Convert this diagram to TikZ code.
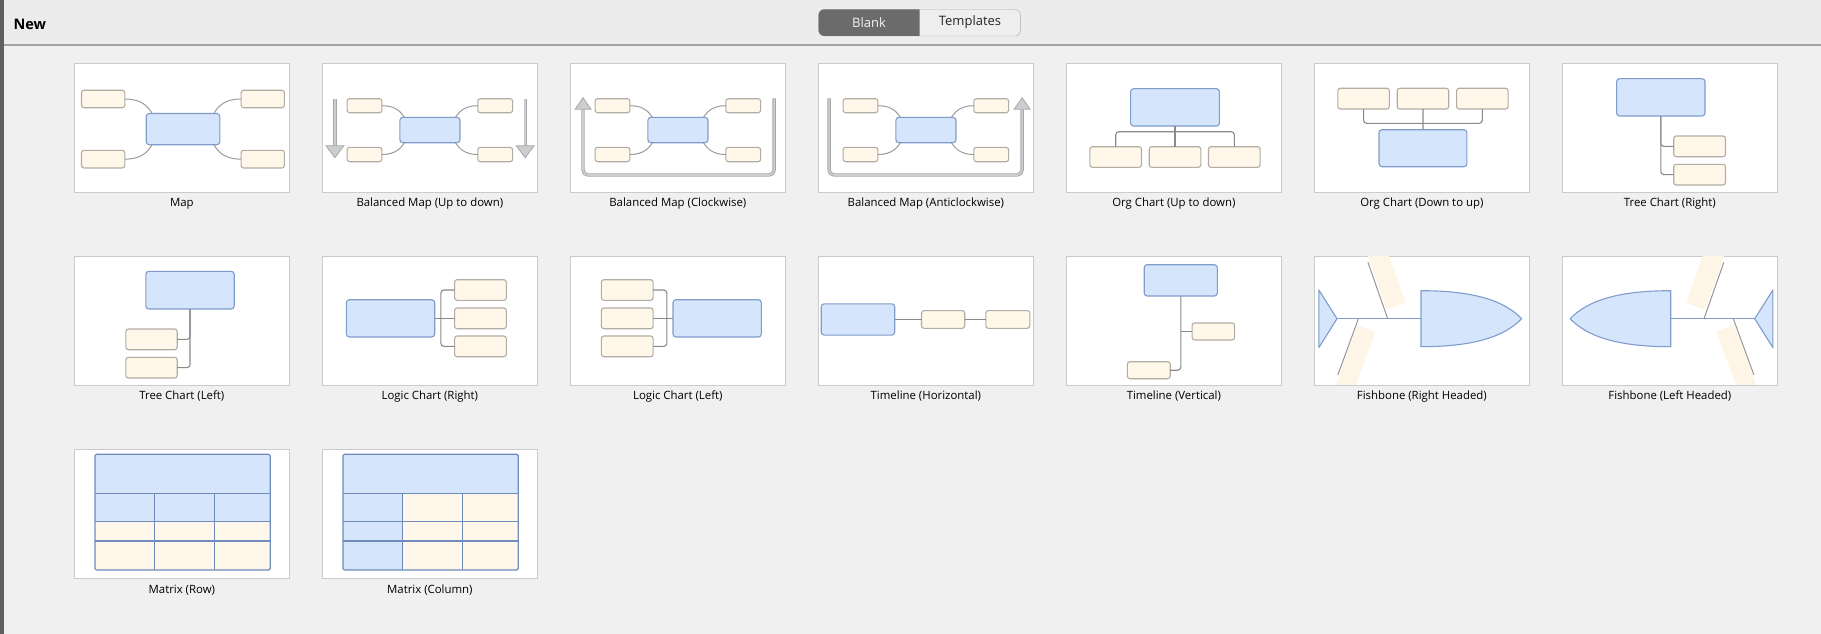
\documentclass[tikz,border=0pt]{standalone}
\usepackage{fontspec}
\setmainfont{Open Sans}
\definecolor{bgc}{HTML}{F0F0F0}
\definecolor{hdr}{HTML}{ECECEC}
\definecolor{hdrline}{HTML}{A3A3A3}
\definecolor{sidebar}{HTML}{5F5F5F}
\definecolor{cardline}{HTML}{CBCBCB}
\definecolor{bfill}{HTML}{D5E5FC}
\definecolor{bline}{HTML}{7F9CCB}
\definecolor{cfill}{HTML}{FFF7EA}
\definecolor{cline}{HTML}{B2ACA3}
\definecolor{conc}{HTML}{8A8A8A}
\definecolor{ribc}{HTML}{FEF5E7}
\definecolor{tubeo}{HTML}{A8A8A8}
\definecolor{tubei}{HTML}{CDCDCD}
\definecolor{gridc}{HTML}{6F8BBB}
\definecolor{togdark}{HTML}{6B6B6B}
\definecolor{toglight}{HTML}{EEEEEE}
\definecolor{togline}{HTML}{AAAAAA}
\tikzset{
 card/.style={draw=cardline, fill=white, line width=1pt, anchor=north west, minimum width=214.5pt, minimum height=129pt, inner sep=0pt, outer sep=0pt},
 lbl/.style={font=\fontsize{11.4}{13}\selectfont, text=black, inner sep=0pt},
 bluebox/.style={draw=bline, fill=bfill, line width=1.1pt, rounded corners=3pt, inner sep=0pt, outer sep=0pt},
 creambox/.style={draw=cline, fill=cfill, line width=1.1pt, rounded corners=2.5pt, inner sep=0pt, outer sep=0pt},
 conn/.style={draw=conc, line width=1.1pt},
 curve/.style={draw=conc!85, line width=1pt},
 tube/.style={draw=tubeo, double=tubei, double distance=1.6pt, line width=0.9pt, rounded corners=5pt},
 ahead/.style={fill=tubei, draw=tubeo, line width=0.8pt, line join=miter},
 spine/.style={draw=bline, line width=1.1pt},
 shapeb/.style={draw=bline, fill=bfill, line width=1.1pt, line join=round},
 bone/.style={draw=conc!90, line width=1pt},
 rib/.style={fill=ribc},
 gridl/.style={draw=gridc, line width=1.2pt},
}
\newcommand\bx[6]{\node[#2, minimum width={(#5)-(#3)}, minimum height={(#6)-(#4)}] (#1) at ({((#3)+(#5))/2},{((#4)+(#6))/2}) {};}
\newcommand\card[4]{\node[card] (#1) at (#2,#3) {};\node[lbl] (#1-t) at ({#2+107.25},{#3+140.5}) {#4};}
\newcommand\bmapcore[1]{%
 \bx{#1-c}{bluebox}{77.3}{54}{137.4}{79.4}
 \bx{#1-1}{creambox}{24.5}{35.4}{59.3}{49.4}
 \bx{#1-2}{creambox}{155.2}{35.4}{190}{49.4}
 \bx{#1-3}{creambox}{24.5}{84}{59.3}{98.4}
 \bx{#1-4}{creambox}{155.2}{84}{190}{98.4}
 \draw[curve] (#1-1.east) .. controls +(13,0) and +(-4,-6) .. ([xshift=4.6pt]#1-c.north west);
 \draw[curve] (#1-2.west) .. controls +(-13,0) and +(4,-6) .. ([xshift=-4.6pt]#1-c.north east);
 \draw[curve] (#1-3.east) .. controls +(13,0) and +(-4,6) .. ([xshift=4.6pt]#1-c.south west);
 \draw[curve] (#1-4.west) .. controls +(-13,0) and +(4,6) .. ([xshift=-4.6pt]#1-c.south east);
}
\newcommand\fishbody{%
 \clip (0.5,0.5) rectangle (214,128.5);
 \fill[rib] (72.0,53.5) -- (52.1,-3.1) -- (71.0,-9.7) -- (90.9,46.9) -- cycle;
 \fill[rib] (43,69.1) -- (18.9,134.8) -- (36.7,141.3) -- (60.8,75.6) -- cycle;
 \draw[bone] (73.1,62.7) -- (53.3,6.3);
 \draw[bone] (43.8,62.7) -- (23.2,119);
 \draw[spine] (22.4,62.7) -- (106.4,62.7);
 \draw[shapeb] (4.2,34) -- (22.4,62.7) -- (4.2,91.7) -- cycle;
 \draw[shapeb] (106.4,34.7) .. controls (160,34.7) and (190,45) .. (207,62.7) .. controls (190,80.4) and (160,90.7) .. (106.4,90.7) -- cycle;
}
\begin{document}
\begin{tikzpicture}[x=1pt,y=-1pt]
\useasboundingbox (0,0) rectangle (1821,634);
\fill[bgc] (0,0) rectangle (1821,634);
\fill[hdr] (0,0) rectangle (1821,45);
\draw[hdrline, line width=1.5pt] (0,45) -- (1821,45);
\fill[sidebar] (0,0) rectangle (3.5,634);
\node[font=\bfseries\fontsize{14.5}{16}\selectfont, anchor=west, inner sep=0pt] (new) at (13.3,24) {New};
% toggle
\node[draw=togline, fill=toglight, rounded corners=6pt, minimum width=202pt, minimum height=26.7pt, inner sep=0pt] (tog) at (919.55,22.65) {};
\begin{scope}
 \clip (810,0) rectangle (919.6,45);
 \fill[togdark, rounded corners=6pt] (818.5,9.3) rectangle (1020.6,36);
\end{scope}
\node[font=\fontsize{13}{15}\selectfont, text=white!95!black] (blank) at (869,22.5) {Blank};
\node[font=\fontsize{13}{15}\selectfont, text=black!85] (tmpl) at (970,22.5) {Templates};
% cards
\card{k1}{74.6}{63.3}{Map}
\card{k2}{322.6}{63.3}{Balanced Map (Up to down)}
\card{k3}{570.6}{63.3}{Balanced Map (Clockwise)}
\card{k4}{818.6}{63.3}{Balanced Map (Anticlockwise)}
\card{k5}{1066.6}{63.3}{Org Chart (Up to down)}
\card{k6}{1314.6}{63.3}{Org Chart (Down to up)}
\card{k7}{1562.6}{63.3}{Tree Chart (Right)}
\card{k8}{74.6}{256}{Tree Chart (Left)}
\card{k9}{322.6}{256}{Logic Chart (Right)}
\card{k10}{570.6}{256}{Logic Chart (Left)}
\card{k11}{818.6}{256}{Timeline (Horizontal)}
\card{k12}{1066.6}{256}{Timeline (Vertical)}
\card{k13}{1314.6}{256}{Fishbone (Right Headed)}
\card{k14}{1562.6}{256}{Fishbone (Left Headed)}
\card{k15}{74.6}{449.3}{Matrix (Row)}
\card{k16}{322.6}{449.3}{Matrix (Column)}
% Map
\begin{scope}[shift={(74.6,63.3)}]
 \bx{ma-c}{bluebox}{71.6}{50.2}{145.2}{81.4}
 \bx{ma-1}{creambox}{6.9}{27}{50.2}{44.4}
 \bx{ma-2}{creambox}{166.5}{27}{209.8}{44.4}
 \bx{ma-3}{creambox}{6.9}{87}{50.2}{104.7}
 \bx{ma-4}{creambox}{166.5}{87}{209.8}{104.7}
 \draw[curve] (ma-1.east) .. controls +(16,0) and +(-5,-8) .. ([xshift=6pt]ma-c.north west);
 \draw[curve] (ma-2.west) .. controls +(-16,0) and +(5,-8) .. ([xshift=-6pt]ma-c.north east);
 \draw[curve] (ma-3.east) .. controls +(16,0) and +(-5,8) .. ([xshift=6pt]ma-c.south west);
 \draw[curve] (ma-4.west) .. controls +(-16,0) and +(5,8) .. ([xshift=-6pt]ma-c.south east);
\end{scope}
% Balanced map up to down
\begin{scope}[shift={(322.6,63.3)}]
 \bmapcore{bu}
 \coordinate (bu-a1) at (12.3,35.7); \coordinate (bu-h1) at (12.3,82.4);
 \coordinate (bu-a2) at (202.6,35.7); \coordinate (bu-h2) at (202.6,82.4);
 \draw[tube] (bu-a1) -- (bu-h1);
 \draw[tube] (bu-a2) -- (bu-h2);
 \filldraw[ahead] (3.3,82.4) -- (21.3,82.4) -- (12.3,94.4) -- cycle;
 \filldraw[ahead] (193.6,82.4) -- (211.6,82.4) -- (202.6,94.4) -- cycle;
\end{scope}
% Balanced map clockwise
\begin{scope}[shift={(570.6,63.3)}]
 \bmapcore{bc}
 \coordinate (bc-s) at (203.5,35); \coordinate (bc-e) at (12.4,46);
 \draw[tube] (bc-s) -- (203.5,111.7) -- (12.4,111.7) -- (bc-e);
 \filldraw[ahead] (4.4,46) -- (20.4,46) -- (12.4,34.4) -- cycle;
\end{scope}
% Balanced map anticlockwise
\begin{scope}[shift={(818.6,63.3)}]
 \bmapcore{ba}
 \coordinate (ba-s) at (10.5,35); \coordinate (ba-e) at (203.5,46);
 \draw[tube] (ba-s) -- (10.5,111.7) -- (203.5,111.7) -- (ba-e);
 \filldraw[ahead] (195.5,46) -- (211.5,46) -- (203.5,34.4) -- cycle;
\end{scope}
% Org chart up to down
\begin{scope}[shift={(1066.6,63.3)}]
 \bx{ou-c}{bluebox}{64}{25.4}{152.8}{62.7}
 \bx{ou-1}{creambox}{23.3}{83.4}{74.9}{104}
 \bx{ou-2}{creambox}{82.6}{83.4}{134.2}{104}
 \bx{ou-3}{creambox}{141.9}{83.4}{193.5}{104}
 \coordinate (ou-bus) at (0,68.4);
 \draw[conn, rounded corners=3pt] (ou-1.north) -- (ou-1.north |- ou-bus) -- (ou-3.north |- ou-bus) -- (ou-3.north);
 \draw[conn] (ou-c.south) -- (ou-2.north);
\end{scope}
% Org chart down to up
\begin{scope}[shift={(1314.6,63.3)}]
 \bx{od-c}{bluebox}{64.4}{66.4}{152.3}{103.4}
 \bx{od-1}{creambox}{23.2}{25}{74.7}{45.7}
 \bx{od-2}{creambox}{82.6}{25}{134.1}{45.7}
 \bx{od-3}{creambox}{142}{25}{193.5}{45.7}
 \coordinate (od-bus) at (0,60);
 \draw[conn, rounded corners=3pt] (od-1.south) -- (od-1.south |- od-bus) -- (od-3.south |- od-bus) -- (od-3.south);
 \draw[conn] (od-2.south) -- (od-c.north);
\end{scope}
% Tree chart right
\begin{scope}[shift={(1562.6,63.3)}]
 \bx{tr-c}{bluebox}{54}{15.4}{142.4}{52.7}
 \bx{tr-1}{creambox}{111.1}{72.7}{162.9}{93.4}
 \bx{tr-2}{creambox}{111.1}{101}{162.9}{121.7}
 \draw[conn, rounded corners=3pt] (tr-c.south) |- (tr-2.west);
 \draw[conn, rounded corners=3pt] (tr-c.south) |- (tr-1.west);
\end{scope}
% Tree chart left
\begin{scope}[shift={(74.6,256)}]
 \bx{tl-c}{bluebox}{71.2}{15.3}{159.6}{53}
 \bx{tl-1}{creambox}{51.3}{73}{102.6}{93.7}
 \bx{tl-2}{creambox}{51.3}{101.3}{102.6}{122}
 \draw[conn, rounded corners=3pt] (tl-c.south) |- (tl-2.east);
 \draw[conn, rounded corners=3pt] (tl-c.south) |- (tl-1.east);
\end{scope}
% Logic chart right
\begin{scope}[shift={(322.6,256)}]
 \bx{lr-c}{bluebox}{23.8}{43.7}{112.1}{81}
 \bx{lr-1}{creambox}{132}{23.7}{183.7}{44.3}
 \bx{lr-2}{creambox}{132}{52}{183.7}{72.7}
 \bx{lr-3}{creambox}{132}{80}{183.7}{100.7}
 \coordinate (lr-b) at (118.3,0);
 \draw[conn] (lr-c.east) -- (lr-2.west);
 \draw[conn, rounded corners=3pt] (lr-1.west) -- (lr-1.west -| lr-b) -- (lr-3.west -| lr-b) -- (lr-3.west);
\end{scope}
% Logic chart left
\begin{scope}[shift={(570.6,256)}]
 \bx{ll-c}{bluebox}{102.4}{43.7}{190.7}{81}
 \bx{ll-1}{creambox}{30.8}{23.7}{82.5}{44.3}
 \bx{ll-2}{creambox}{30.8}{52}{82.5}{72.7}
 \bx{ll-3}{creambox}{30.8}{80}{82.5}{100.7}
 \coordinate (ll-b) at (96.2,0);
 \draw[conn] (ll-c.west) -- (ll-2.east);
 \draw[conn, rounded corners=3pt] (ll-1.east) -- (ll-1.east -| ll-b) -- (ll-3.east -| ll-b) -- (ll-3.east);
\end{scope}
% Timeline horizontal
\begin{scope}[shift={(818.6,256)}]
 \bx{th-c}{bluebox}{2.6}{47.8}{76.1}{79.1}
 \bx{th-1}{creambox}{102.9}{54.6}{146.1}{72.3}
 \bx{th-2}{creambox}{167.2}{54.6}{211.2}{72.3}
 \draw[conn] (th-c.east) -- (th-1.west);
 \draw[conn] (th-1.east) -- (th-2.west);
\end{scope}
% Timeline vertical
\begin{scope}[shift={(1066.6,256)}]
 \bx{tv-c}{bluebox}{77.6}{8.7}{150.8}{40}
 \bx{tv-1}{creambox}{125.5}{67}{168}{84}
 \bx{tv-2}{creambox}{60.8}{105.7}{103.6}{122.7}
 \draw[conn, rounded corners=3pt] (tv-c.south) |- (tv-2.east);
 \draw[conn, rounded corners=3pt] (tv-c.south |- tv-1.west) -- (tv-1.west);
\end{scope}
% Fishbone right headed
\begin{scope}[shift={(1314.6,256)}]
 \fishbody
\end{scope}
% Fishbone left headed
\begin{scope}[shift={(1777.1,256)}, xscale=-1]
 \fishbody
\end{scope}
% Matrix row
\begin{scope}[shift={(74.6,449.3)}]
 \fill[bfill] (20.3,5) rectangle (195.6,72.3);
 \fill[cfill] (20.3,72.3) rectangle (195.6,120.7);
 \draw[gridl] (20.3,44) -- (195.6,44) (20.3,72.3) -- (195.6,72.3) (20.3,91.7) -- (195.6,91.7);
 \draw[gridl] (80.2,44) -- (80.2,120.7) (139.5,44) -- (139.5,120.7);
 \draw[gridl, rounded corners=1.5pt] (20.3,5) rectangle (195.6,120.7);
\end{scope}
% Matrix column
\begin{scope}[shift={(322.6,449.3)}]
 \fill[bfill] (20.3,5) rectangle (195.6,44);
 \fill[bfill] (20.3,44) rectangle (80.2,120.7);
 \fill[cfill] (80.2,44) rectangle (195.6,120.7);
 \draw[gridl] (20.3,44) -- (195.6,44) (20.3,72.3) -- (195.6,72.3) (20.3,91.7) -- (195.6,91.7);
 \draw[gridl] (80.2,44) -- (80.2,120.7) (139.5,44) -- (139.5,120.7);
 \draw[gridl, rounded corners=1.5pt] (20.3,5) rectangle (195.6,120.7);
\end{scope}
\end{tikzpicture}
\end{document}
